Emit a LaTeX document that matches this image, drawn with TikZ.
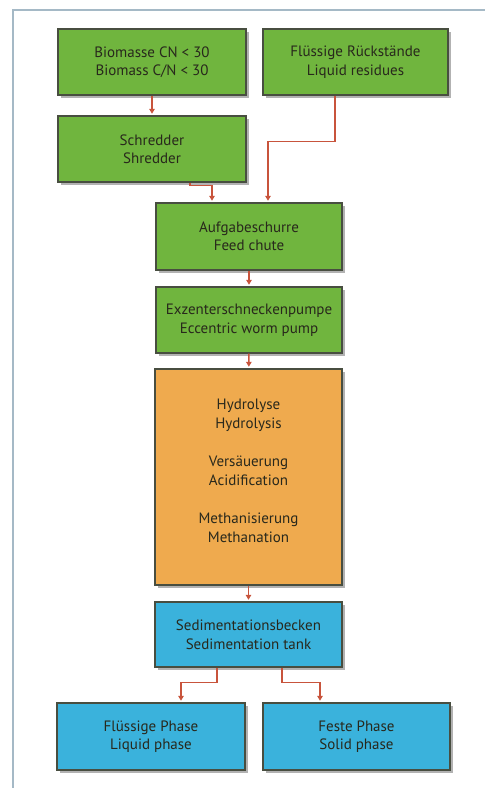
\documentclass[tikz,border=0pt]{standalone}
\usepackage{fontspec}
\setmainfont{PT Sans}
\usetikzlibrary{arrows.meta,shadows}
\definecolor{boxgreen}{RGB}{112,181,62}
\definecolor{boxorange}{RGB}{239,170,78}
\definecolor{boxblue}{RGB}{58,178,220}
\definecolor{boxedge}{RGB}{72,78,64}
\definecolor{flowred}{RGB}{200,84,60}
\definecolor{framecol}{RGB}{165,185,198}
\definecolor{textcol}{RGB}{40,40,28}
\tikzset{
  stepbox/.style={draw=boxedge, line width=1.4pt, minimum height=66pt,
    align=center, text=textcol, font=\fontsize{15}{18.5}\selectfont,
    drop shadow={shadow xshift=2.5pt, shadow yshift=-2.5pt, fill=black!55, opacity=0.55}},
  greenbox/.style={stepbox, fill=boxgreen},
  bluebox/.style={stepbox, fill=boxblue},
  orangebox/.style={stepbox, fill=boxorange},
  flow/.style={draw=flowred, line width=1.3pt,
    -{Triangle[length=5pt,width=5.5pt]}, shorten >=1.5pt},
}
\begin{document}
\begin{tikzpicture}[x=1pt,y=-1pt]
\useasboundingbox (0,0) rectangle (485,788);
% outer frame, top and left edges only
\draw[framecol, line width=2pt] (13,788) -- (13,9.5) -- (485,9.5);

% process boxes
\node[greenbox, minimum width=188pt] (bio) at (152,62) {Biomasse CN < 30\\Biomass C/N < 30};
\node[greenbox, minimum width=185pt] (liq) at (355.5,62) {Flüssige Rückstände\\Liquid residues};
\node[greenbox, minimum width=188pt] (shred) at (152,149) {Schredder\\Shredder};
\node[greenbox, minimum width=186pt, minimum height=67pt] (feed) at (249,236.5) {Aufgabeschurre\\Feed chute};
\node[greenbox, minimum width=186pt] (pump) at (249,320) {Exzenterschneckenpumpe\\Eccentric worm pump};
\node[orangebox, minimum width=187pt, minimum height=216pt] (proc) at (248.5,477) {};
\node[align=center, text=textcol, font=\fontsize{15}{19}\selectfont] (proctext) at (248.5,471)
  {Hydrolyse\\Hydrolysis\\[19pt]Versäuerung\\Acidification\\[19pt]Methanisierung\\Methanation};
\node[bluebox, minimum width=187pt, minimum height=65pt] (sed) at (248.5,634.5) {Sedimentationsbecken\\Sedimentation tank};
\node[bluebox, minimum width=188pt, minimum height=67pt] (fl) at (151,736.5) {Flüssige Phase\\Liquid phase};
\node[bluebox, minimum width=187pt, minimum height=67pt] (fest) at (356.5,736.5) {Feste Phase\\Solid phase};

% connectors
\draw[flow] (bio) -- (shred);
\draw[flow] ([xshift=-20.5pt]liq.south) -- ++(0,46) -| ([xshift=19pt]feed.north);
\draw[flow] ([xshift=38pt]shred.south) -- ++(0,3) -| ([xshift=-37pt]feed.north);
\draw[flow] (feed) -- (pump);
\draw[flow] (pump) -- (proc);
\draw[flow] (proc) -- (sed);
\draw[flow] ([xshift=-31.5pt]sed.south) -- ++(0,15) -| ([xshift=30pt]fl.north);
\draw[flow] ([xshift=33.5pt]sed.south) -- ++(0,15) -| ([xshift=-36.5pt]fest.north);
\end{tikzpicture}
\end{document}
